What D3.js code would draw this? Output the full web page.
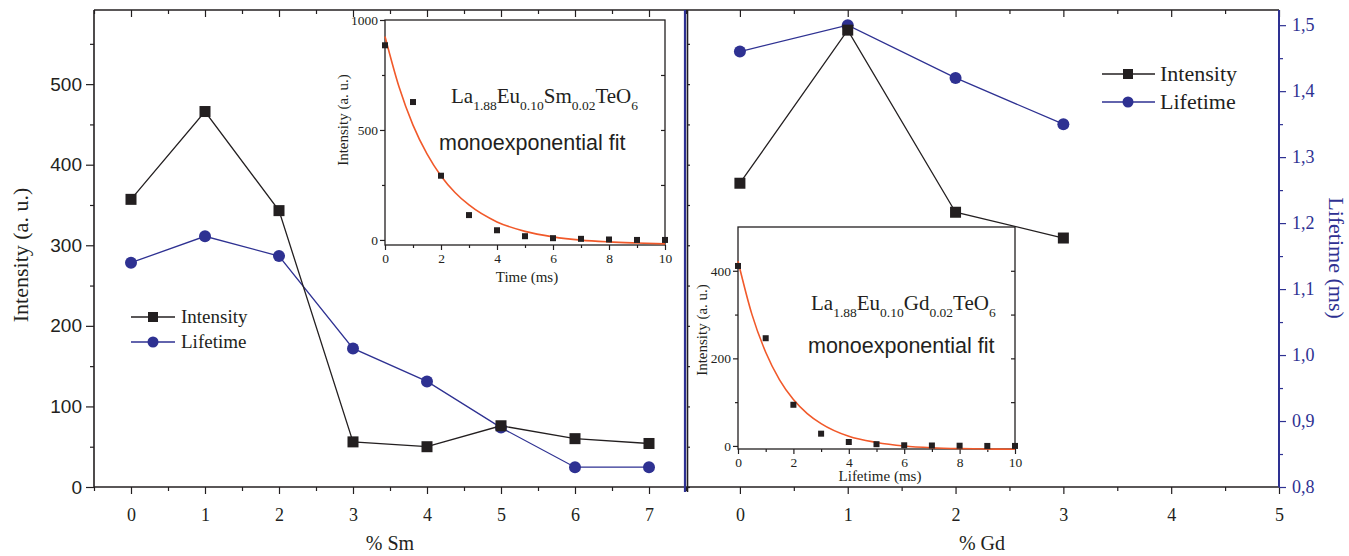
<!DOCTYPE html>
<html><head><meta charset="utf-8">
<script src="https://cdn.jsdelivr.net/npm/d3@7"></script>
<style>body{margin:0;background:#fff}svg{display:block}</style>
</head><body><svg id="c" width="1349" height="556"></svg>
<script>
// ---- data ----
const smPct=[0,1,2,3,4,5,6,7];
const smIntensity=[357,466,343,56,50,76,60,54];
const smLifetime=[1.14,1.18,1.15,1.01,0.96,0.89,0.83,0.83];
const gdPct=[0,1,2,3];
const gdIntensity=[377,567,341,309];
const gdLifetime=[1.46,1.50,1.42,1.35];
const smXTicks=[0,1,2,3,4,5,6,7];
const smXMinor=[-0.5,0.5,1.5,2.5,3.5,4.5,5.5,6.5,7.5];
const gdXTicks=[0,1,2,3,4,5];
const gdXMinor=[-0.5,0.5,1.5,2.5,3.5,4.5];
const intensityTicks=[0,100,200,300,400,500];
const intensityMinor=[50,150,250,350,450,550];
const lifetimeTicks=[0.8,0.9,1.0,1.1,1.2,1.3,1.4,1.5];
const lifetimeMinor=[0.85,0.95,1.05,1.15,1.25,1.35,1.45];
const decayTime=[0,1,2,3,4,5,6,7,8,9,10];
const smDecay=[885,627,292,113,44,17,8,5,2,0,0];
const fitTime=[0,0.5,1,1.5,2,2.5,3,4,5,6,7,8,9,10];
const smFit=[925,696,522,391,291,216,159,82,39,14,-1,-9,-14,-18];
const gdDecay=[411,246,94,28,9,4,1.5,1,0.5,0,0];
const gdFit=[422,301,214,151,106,74,51,22,8,0,-4,-6,-7,-7.4];
const insetXTicks=[0,2,4,6,8,10];
const insetXMinor=[1,3,5,7,9];
const smInsetYTicks=[0,500,1000];
const smInsetYMinor=[250,750];
const gdInsetYTicks=[0,200,400];
const gdInsetYMinor=[100,300];

// ---- styles ----
const BLACK="#231f20", BLUE="#2e3192", RED="#f1592a";
const SERIF="'Liberation Serif','Times New Roman',serif";
const SANS="'Liberation Sans',Arial,sans-serif";
const svg=d3.select("#c");
const commaFmt=d3.formatLocale({decimal:",",thousands:".",grouping:[3],currency:["",""]}).format(".1f");

function styleAxis(g,color,font,size,noLabels){
  g.select(".domain").remove();
  g.selectAll(".tick line").attr("stroke",color).attr("stroke-width",1.2);
  g.selectAll(".tick text").attr("fill",color).attr("font-family",font).attr("font-size",size);
  if(noLabels) g.selectAll(".tick text").remove();
  g.attr("font-family",null).attr("font-size",null);
}
function addAxis(gen,color,font,size,noLabels){
  const g=svg.append("g").call(gen);
  styleAxis(g,color,font,size,noLabels);
  return g;
}
function hline(x1,x2,y,color,w){svg.append("line").attr("x1",x1).attr("x2",x2).attr("y1",y).attr("y2",y).attr("stroke",color).attr("stroke-width",w);}
function vline(x,y1,y2,color,w){svg.append("line").attr("x1",x).attr("x2",x).attr("y1",y1).attr("y2",y2).attr("stroke",color).attr("stroke-width",w);}

// ---- scales ----
const xL=d3.scaleLinear([-0.5,7.5],[94,686]);
const xR=d3.scaleLinear([-0.5,5],[686,1279]);
const yI=d3.scaleLinear([0,592],[487,10]);
const yT=d3.scaleLinear([0.8,1.523],[487,10]);

// ---- left panel axes ----
addAxis(d3.axisLeft(yI).tickValues(intensityTicks).tickSize(8).tickPadding(4).tickFormat(d3.format("d")).tickSizeOuter(0),BLACK,SANS,19).attr("transform","translate(94,0)");
addAxis(d3.axisLeft(yI).tickValues(intensityMinor).tickSize(4).tickSizeOuter(0),BLACK,SANS,19,true).attr("transform","translate(94,0)");
addAxis(d3.axisBottom(xL).tickValues(smXTicks).tickSize(7).tickPadding(14).tickFormat(d3.format("d")).tickSizeOuter(0),BLACK,SERIF,18).attr("transform","translate(0,487)");
addAxis(d3.axisBottom(xL).tickValues(smXMinor).tickSize(4).tickSizeOuter(0),BLACK,SERIF,18,true).attr("transform","translate(0,487)");
addAxis(d3.axisBottom(xL).tickValues(smXTicks).tickSize(7).tickSizeOuter(0),BLACK,SERIF,18,true).attr("transform","translate(0,10)");
addAxis(d3.axisBottom(xL).tickValues(smXMinor).tickSize(4).tickSizeOuter(0),BLACK,SERIF,18,true).attr("transform","translate(0,10)");
hline(94,686,487,BLACK,1.4);
hline(94,686,10,BLACK,1.4);
vline(94,10,487,BLACK,1.6);

// ---- right panel axes ----
addAxis(d3.axisBottom(xR).tickValues(gdXTicks).tickSize(7).tickPadding(14).tickFormat(d3.format("d")).tickSizeOuter(0),BLACK,SERIF,18).attr("transform","translate(0,487)");
addAxis(d3.axisBottom(xR).tickValues(gdXMinor).tickSize(4).tickSizeOuter(0),BLACK,SERIF,18,true).attr("transform","translate(0,487)");
addAxis(d3.axisBottom(xR).tickValues(gdXTicks).tickSize(7).tickSizeOuter(0),BLACK,SERIF,18,true).attr("transform","translate(0,10)");
addAxis(d3.axisBottom(xR).tickValues(gdXMinor).tickSize(4).tickSizeOuter(0),BLACK,SERIF,18,true).attr("transform","translate(0,10)");
addAxis(d3.axisRight(yI).tickValues(intensityTicks.concat(intensityMinor)).tickSize(3).tickSizeOuter(0),BLACK,SERIF,18,true).attr("transform","translate(687,0)");
addAxis(d3.axisRight(yT).tickValues(lifetimeTicks).tickSize(7).tickPadding(6).tickFormat(commaFmt).tickSizeOuter(0),BLUE,SERIF,18).attr("transform","translate(1279,0)");
addAxis(d3.axisRight(yT).tickValues(lifetimeMinor).tickSize(4).tickSizeOuter(0),BLUE,SERIF,18,true).attr("transform","translate(1279,0)");
hline(686,1279,487,BLACK,1.4);
hline(686,1279,10,BLACK,1.4);
vline(687.5,10,492,BLACK,1.6);
vline(685,10,492,BLUE,2.2);
vline(1279,10,487,BLUE,2);

// ---- series ----
function series(xs,pcts,vals,ys,color,shape){
  const pts=pcts.map((p,i)=>[p,vals[i]]);
  svg.append("path").attr("d",d3.line().x(d=>xs(d[0])).y(d=>ys(d[1]))(pts)).attr("fill","none").attr("stroke",color).attr("stroke-width",1.3);
  if(shape==="sq"){
    svg.selectAll(null).data(pts).enter().append("rect").attr("x",d=>xs(d[0])-5.5).attr("y",d=>ys(d[1])-5.5).attr("width",11).attr("height",11).attr("fill",color);
  } else {
    svg.selectAll(null).data(pts).enter().append("circle").attr("cx",d=>xs(d[0])).attr("cy",d=>ys(d[1])).attr("r",6).attr("fill",color);
  }
}
series(xL,smPct,smLifetime,yT,BLUE,"ci");
series(xL,smPct,smIntensity,yI,BLACK,"sq");
series(xR,gdPct,gdLifetime,yT,BLUE,"ci");
series(xR,gdPct,gdIntensity,yI,BLACK,"sq");

// ---- titles ----
svg.append("text").attr("transform","translate(20,255) rotate(-90)").attr("text-anchor","middle").attr("dy","0.35em")
  .attr("font-family",SERIF).attr("font-size",22).attr("fill",BLACK).text("Intensity (a. u.)");
svg.append("text").attr("transform","translate(1337,258) rotate(90)").attr("text-anchor","middle").attr("dy","0.35em")
  .attr("font-family",SERIF).attr("font-size",22).attr("fill",BLUE).text("Lifetime (ms)");
svg.append("text").attr("x",390).attr("y",550).attr("text-anchor","middle").attr("font-family",SERIF).attr("font-size",20).attr("fill",BLACK).text("% Sm");
svg.append("text").attr("x",982).attr("y",550).attr("text-anchor","middle").attr("font-family",SERIF).attr("font-size",20).attr("fill",BLACK).text("% Gd");

// ---- legends ----
function legend(x1,x2,xm,xt,y1,y2,size){
  hline(x1,x2,y1,BLACK,1.3);
  svg.append("rect").attr("x",xm-5).attr("y",y1-5).attr("width",10).attr("height",10).attr("fill",BLACK);
  svg.append("text").attr("x",xt).attr("y",y1).attr("dy","0.33em").attr("font-family",SERIF).attr("font-size",size).attr("fill",BLACK).text("Intensity");
  hline(x1,x2,y2,BLUE,1.3);
  svg.append("circle").attr("cx",xm).attr("cy",y2).attr("r",5.5).attr("fill",BLUE);
  svg.append("text").attr("x",xt).attr("y",y2).attr("dy","0.33em").attr("font-family",SERIF).attr("font-size",size).attr("fill",BLACK).text("Lifetime");
}
legend(131,175,153,181,317,342,19);
legend(1102,1155,1128,1160,74,102,22);

// ---- insets ----
function inset(o){
  const xs=d3.scaleLinear([0,10],[o.l,o.r]);
  const ys=d3.scaleLinear(o.yDom,[o.b,o.t]);
  svg.append("rect").attr("x",o.l).attr("y",o.t).attr("width",o.r-o.l).attr("height",o.b-o.t).attr("fill","#fff");
  addAxis(d3.axisLeft(ys).tickValues(o.yTicks).tickSize(5).tickPadding(2).tickFormat(d3.format("d")).tickSizeOuter(0),BLACK,SERIF,13.5).attr("transform",`translate(${o.l},0)`);
  addAxis(d3.axisLeft(ys).tickValues(o.yMinor).tickSize(3).tickSizeOuter(0),BLACK,SERIF,13.5,true).attr("transform",`translate(${o.l},0)`);
  addAxis(d3.axisLeft(ys).tickValues(o.yTicks.concat(o.yMinor).filter(v=>v>0&&v<o.yDom[1])).tickSize(4).tickSizeOuter(0),BLACK,SERIF,13.5,true).attr("transform",`translate(${o.r},0)`);
  addAxis(d3.axisBottom(xs).tickValues(insetXTicks).tickSize(5).tickPadding(3).tickFormat(d3.format("d")).tickSizeOuter(0),BLACK,SERIF,13.5).attr("transform",`translate(0,${o.b})`);
  addAxis(d3.axisBottom(xs).tickValues(insetXMinor).tickSize(3).tickSizeOuter(0),BLACK,SERIF,13.5,true).attr("transform",`translate(0,${o.b})`);
  svg.append("rect").attr("x",o.l).attr("y",o.t).attr("width",o.r-o.l).attr("height",o.b-o.t).attr("fill","none").attr("stroke",BLACK).attr("stroke-width",1.3);
  const fitPts=fitTime.map((t,i)=>[t,o.fit[i]]);
  svg.append("path").attr("d",d3.line().curve(d3.curveMonotoneX).x(d=>xs(d[0])).y(d=>ys(d[1]))(fitPts)).attr("fill","none").attr("stroke",RED).attr("stroke-width",1.6);
  svg.selectAll(null).data(decayTime.map((t,i)=>[t,o.data[i]])).enter().append("rect")
    .attr("x",d=>xs(d[0])-3).attr("y",d=>ys(d[1])-3).attr("width",6).attr("height",6).attr("fill",BLACK);
  svg.append("text").attr("transform",`translate(${o.ytx},${o.yty}) rotate(-90)`).attr("text-anchor","middle").attr("dy","0.35em")
    .attr("font-family",SERIF).attr("font-size",15).attr("fill",BLACK).text("Intensity (a. u.)");
  svg.append("text").attr("x",o.xtx).attr("y",o.xty).attr("text-anchor","middle").attr("font-family",SERIF).attr("font-size",15).attr("fill",BLACK).text(o.xTitle);
  const f=svg.append("text").attr("x",o.fx).attr("y",o.fy).attr("font-family",SERIF).attr("font-size",21).attr("fill",BLACK);
  o.formula.forEach(([s,sub],i)=>{
    const prevSub=i>0&&o.formula[i-1][1];
    const ts=f.append("tspan").text(s).attr("font-size",sub?13.5:21);
    if(sub&&!prevSub) ts.attr("dy",7);
    if(!sub&&prevSub) ts.attr("dy",-7);
  });
  svg.append("text").attr("x",o.mx).attr("y",o.my).attr("font-family",SANS).attr("font-size",21.5).attr("fill",BLACK).text("monoexponential fit");
}
inset({l:385,r:665,t:20,b:245,yDom:[-23,1000],yTicks:smInsetYTicks,yMinor:smInsetYMinor,fit:smFit,data:smDecay,
  ytx:343,yty:120,xtx:527,xty:282,xTitle:"Time (ms)",fx:451,fy:103,mx:439,my:150,
  formula:[["La",0],["1.88",1],["Eu",0],["0.10",1],["Sm",0],["0.02",1],["TeO",0],["6",1]]});
inset({l:738,r:1015,t:227,b:449,yDom:[-7,500],yTicks:gdInsetYTicks,yMinor:gdInsetYMinor,fit:gdFit,data:gdDecay,
  ytx:702,yty:330,xtx:880,xty:481,xTitle:"Lifetime (ms)",fx:811,fy:310,mx:808,my:353,
  formula:[["La",0],["1.88",1],["Eu",0],["0.10",1],["Gd",0],["0.02",1],["TeO",0],["6",1]]});
</script></body></html>
